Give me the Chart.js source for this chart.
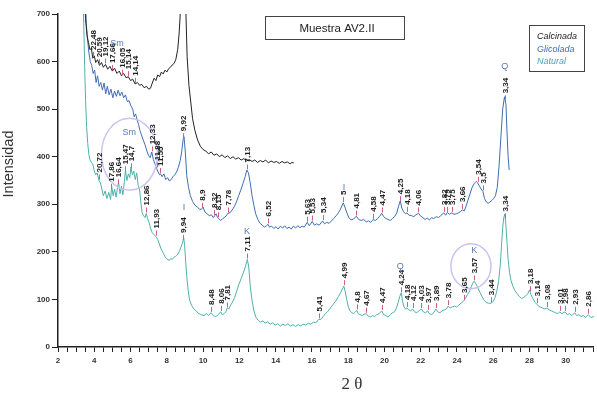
<!DOCTYPE html>
<html>
<head>
<meta charset="utf-8">
<script src="https://cdn.jsdelivr.net/npm/chart.js@4.4.1/dist/chart.umd.min.js"></script>
<style>
  html, body { margin: 0; padding: 0; background: #ffffff; }
  canvas { display: block; }
</style>
</head>
<body>
<canvas id="xrd" width="597" height="403"></canvas>
<script>
// Diffractograms of sample AV2.II: [2θ (°), intensity (counts)]
const calcinada = [
  [3.42,760],[3.52,690],[3.6,655],[3.68,640],[3.76,625],[3.84,628],[3.92,607],[4.0,612],[4.08,598],[4.18,604],
  [4.29,592],[4.4,598],[4.5,588],[4.62,594],[4.74,584],[4.86,590],[5.0,580],[5.12,586],[5.25,575],[5.38,580],
  [5.5,570],[5.62,575],[5.75,566],[5.88,568],[6.0,560],[6.12,563],[6.25,553],[6.38,556],[6.5,550],[6.62,552],
  [6.75,545],[6.88,548],[7.0,542],[7.1,544],[7.2,555],[7.3,565],[7.4,560],[7.5,572],[7.6,568],[7.7,578],
  [7.8,574],[7.9,582],[8.0,578],[8.1,585],[8.2,588],[8.3,593],[8.4,596],[8.5,605],[8.6,625],[8.68,660],
  [8.77,720],[8.9,1150],[9.04,720],[9.12,610],[9.22,550],[9.32,515],[9.42,480],[9.55,455],[9.7,435],[9.85,422],
  [10.0,415],[10.15,412],[10.3,406],[10.45,410],[10.6,403],[10.75,406],[10.9,400],[11.05,404],[11.2,398],[11.35,402],
  [11.5,396],[11.65,400],[11.8,395],[11.95,398],[12.1,393],[12.25,396],[12.4,391],[12.55,394],[12.7,390],[12.85,393],
  [13.0,388],[13.15,392],[13.3,389],[13.45,393],[13.6,387],[13.75,391],[13.9,388],[14.05,390],[14.2,386],[14.35,390],
  [14.5,387],[14.65,389],[14.8,385],[14.9,388],[15.0,387]
];

const glicolada = [
  [3.48,760],[3.56,680],[3.62,650],[3.7,620],[3.78,600],[3.86,592],[3.94,575],[4.02,582],[4.1,556],[4.18,570],
  [4.27,548],[4.36,556],[4.45,540],[4.54,555],[4.63,532],[4.72,548],[4.82,530],[4.92,542],[5.02,524],[5.12,538],
  [5.22,527],[5.32,540],[5.42,528],[5.52,536],[5.62,524],[5.72,530],[5.82,516],[5.92,518],[6.02,507],[6.12,500],
  [6.2,484],[6.28,490],[6.36,478],[6.44,468],[6.52,455],[6.6,446],[6.7,435],[6.8,425],[6.9,412],[7.0,402],
  [7.08,398],[7.17,410],[7.26,394],[7.35,385],[7.44,375],[7.52,368],[7.6,362],[7.66,364],[7.74,358],[7.84,364],
  [7.94,352],[8.04,356],[8.14,349],[8.24,352],[8.34,358],[8.44,362],[8.54,368],[8.64,378],[8.74,392],[8.82,410],
  [8.9,436],[8.95,442],[9.02,410],[9.1,360],[9.2,335],[9.3,318],[9.42,306],[9.55,298],[9.68,294],[9.8,290],
  [9.9,289],[10.0,294],[10.1,284],[10.22,280],[10.34,276],[10.46,278],[10.56,272],[10.64,276],[10.72,280],[10.8,272],
  [10.87,270],[10.96,266],[11.06,269],[11.16,272],[11.26,275],[11.37,281],[11.48,282],[11.6,288],[11.72,295],[11.84,305],
  [11.96,318],[12.08,330],[12.2,344],[12.32,358],[12.41,372],[12.5,366],[12.6,345],[12.7,318],[12.8,298],[12.9,280],
  [13.02,268],[13.14,260],[13.26,256],[13.38,252],[13.5,255],[13.58,258],[13.66,252],[13.78,254],[13.9,249],[14.02,253],
  [14.14,248],[14.26,254],[14.38,250],[14.5,255],[14.62,249],[14.74,252],[14.86,248],[14.98,254],[15.1,250],[15.22,255],
  [15.34,251],[15.46,254],[15.58,252],[15.74,262],[15.86,255],[16.02,264],[16.14,256],[16.26,259],[16.4,256],[16.59,265],
  [16.7,259],[16.82,262],[16.95,260],[17.08,265],[17.2,270],[17.34,276],[17.46,282],[17.58,290],[17.73,303],[17.84,292],
  [17.94,281],[18.04,272],[18.16,267],[18.3,269],[18.45,275],[18.58,268],[18.72,266],[18.86,268],[19.0,263],[19.12,265],
  [19.24,262],[19.38,268],[19.5,266],[19.62,270],[19.74,275],[19.85,281],[19.96,274],[20.08,270],[20.2,268],[20.32,266],
  [20.44,270],[20.56,274],[20.68,282],[20.78,296],[20.87,307],[20.96,292],[21.06,284],[21.16,280],[21.24,282],[21.36,277],
  [21.5,276],[21.62,274],[21.74,278],[21.88,281],[22.0,275],[22.12,272],[22.24,268],[22.36,271],[22.48,267],[22.6,272],
  [22.72,270],[22.86,274],[22.98,272],[23.1,276],[23.27,282],[23.38,277],[23.47,283],[23.58,279],[23.71,282],[23.84,279],
  [23.96,280],[24.08,282],[24.2,285],[24.3,288],[24.4,286],[24.5,296],[24.6,308],[24.72,322],[24.84,336],[24.96,344],
  [25.06,348],[25.14,345],[25.24,338],[25.33,332],[25.43,327],[25.52,312],[25.62,305],[25.72,302],[25.82,305],[25.92,308],
  [26.02,312],[26.12,318],[26.22,335],[26.32,380],[26.42,440],[26.52,500],[26.62,526],[26.7,510],[26.76,450],[26.82,400],
  [26.88,372]
];

const natural = [
  [3.36,760],[3.42,680],[3.47,590],[3.52,520],[3.58,462],[3.64,428],[3.7,405],[3.76,394],[3.84,388],[3.92,384],
  [4.0,370],[4.08,362],[4.16,366],[4.26,350],[4.34,345],[4.42,332],[4.5,318],[4.6,328],[4.7,312],[4.8,325],
  [4.9,310],[4.96,338],[5.04,318],[5.12,332],[5.2,315],[5.28,335],[5.34,346],[5.42,322],[5.5,338],[5.58,320],
  [5.66,348],[5.72,372],[5.8,350],[5.88,364],[5.96,356],[6.02,378],[6.1,362],[6.18,370],[6.26,352],[6.34,366],
  [6.42,340],[6.5,330],[6.58,300],[6.64,282],[6.72,276],[6.8,272],[6.87,281],[6.94,270],[7.02,262],[7.1,250],
  [7.2,240],[7.3,236],[7.41,232],[7.5,226],[7.58,218],[7.66,208],[7.74,202],[7.82,196],[7.9,190],[7.98,186],
  [8.06,184],[8.14,182],[8.22,186],[8.3,184],[8.38,188],[8.46,190],[8.54,192],[8.62,196],[8.7,202],[8.78,210],
  [8.86,218],[8.93,230],[8.98,215],[9.04,180],[9.1,148],[9.18,118],[9.26,98],[9.36,88],[9.46,82],[9.56,78],
  [9.66,74],[9.77,70],[9.9,68],[10.05,66],[10.18,70],[10.3,66],[10.43,72],[10.56,66],[10.7,64],[10.84,68],
  [10.97,74],[11.06,68],[11.16,70],[11.26,74],[11.33,82],[11.42,80],[11.52,88],[11.62,94],[11.74,104],[11.86,118],
  [11.98,132],[12.1,144],[12.22,156],[12.34,170],[12.44,184],[12.52,168],[12.6,128],[12.7,98],[12.8,76],[12.92,62],
  [13.04,56],[13.16,52],[13.3,55],[13.42,50],[13.56,53],[13.7,48],[13.84,51],[13.98,46],[14.12,49],[14.26,44],
  [14.4,48],[14.54,45],[14.68,49],[14.82,44],[14.96,47],[15.1,43],[15.24,47],[15.38,44],[15.52,48],[15.66,46],
  [15.8,50],[15.94,48],[16.08,52],[16.22,51],[16.37,58],[16.5,58],[16.62,64],[16.74,70],[16.86,74],[16.98,80],
  [17.1,86],[17.22,92],[17.34,98],[17.46,106],[17.58,114],[17.68,122],[17.76,128],[17.84,116],[17.92,100],[18.0,86],
  [18.1,76],[18.2,72],[18.3,70],[18.38,73],[18.47,77],[18.56,70],[18.66,68],[18.76,66],[18.88,69],[19.0,70],
  [19.1,65],[19.22,63],[19.34,66],[19.46,64],[19.58,68],[19.7,70],[19.85,76],[19.96,68],[20.08,66],[20.2,63],
  [20.32,68],[20.44,72],[20.56,74],[20.66,82],[20.76,94],[20.84,106],[20.93,114],[21.0,96],[21.08,84],[21.16,80],
  [21.24,82],[21.34,78],[21.44,76],[21.55,80],[21.66,74],[21.78,72],[21.9,76],[22.04,80],[22.14,74],[22.26,72],
  [22.38,76],[22.48,70],[22.6,68],[22.72,72],[22.84,80],[22.94,74],[23.06,72],[23.18,76],[23.3,78],[23.42,80],
  [23.52,86],[23.62,82],[23.74,84],[23.86,86],[23.98,84],[24.1,88],[24.22,92],[24.35,96],[24.46,102],[24.58,110],
  [24.7,118],[24.8,128],[24.92,138],[25.0,136],[25.08,130],[25.18,122],[25.28,114],[25.38,106],[25.5,98],[25.62,94],
  [25.74,92],[25.88,92],[26.0,96],[26.1,104],[26.2,118],[26.3,140],[26.38,170],[26.45,210],[26.52,250],[26.58,272],
  [26.64,280],[26.7,255],[26.76,218],[26.82,184],[26.9,156],[26.98,140],[27.08,128],[27.2,118],[27.32,112],[27.44,106],
  [27.56,102],[27.68,104],[27.8,108],[27.9,112],[28.0,120],[28.08,110],[28.18,102],[28.3,94],[28.4,90],[28.5,86],
  [28.6,84],[28.72,82],[28.84,80],[28.97,82],[29.08,78],[29.2,76],[29.32,74],[29.44,72],[29.56,70],[29.66,74],
  [29.78,70],[29.96,74],[30.08,68],[30.2,70],[30.34,66],[30.49,72],[30.6,66],[30.72,68],[30.84,64],[30.96,66],
  [31.1,62],[31.25,68],[31.38,62],[31.55,64]
];

// Indexed reflections (d-spacing, Å) marked on each trace
const calcinadaPeaks = ['22,48','20,59','19,12','17,66','16,05','15,14','14,14'];
const glicoladaPeaks = ['12,33','11,88','11,55','9,92','8,9','8,32','8,15','7,78','7,13','6,52','5,63','5,53','5,34','5',
  '4,81','4,58','4,47','4,25','4,18','4,06','3,82','3,79','3,75','3,66','3,54','3,5','3,34'];
const naturalPeaks = ['20,72','17,86','16,64','15,47','14,7','12,86','11,93','9,94','8,48','8,06','7,81','7,11','5,41','4,99',
  '4,8','4,67','4,47','4,24','4,18','4,12','4,03','3,97','3,89','3,78','3,65','3,57','3,44','3,34','3,18','3,14','3,08',
  '3,01','2,98','2,93','2,86'];

// Mineral phases: Sm = smectite, I = illite, K = kaolinite, Q = quartz
const phaseNames = ['Sm','Sm','I','K','I','Q','K','Q'];
const phaseAngles = [5.25, 5.93, 8.95, 12.42, 17.77, 20.87, 24.95, 26.64];
const phaseSeries = ['glicolada','natural','natural','natural','natural','natural','natural','glicolada'];

const seriesNames = ['Calcinada','Glicolada','Natural'];
const xTickLabels = [2,4,6,8,10,12,14,16,18,20,22,24,26,28,30];
const yTickLabels = [0,100,200,300,400,500,600,700];

// ---- helpers ----
const CU_KALPHA = 1.5406;
function angleFromD(d) {
  const v = parseFloat(d.replace(',', '.'));
  return 2 * Math.asin(CU_KALPHA / (2 * v)) * 180 / Math.PI;
}
function valueAt(series, t) {
  for (let i = 1; i < series.length; i++) {
    if (series[i][0] >= t) {
      const [x0, y0] = series[i - 1], [x1, y1] = series[i];
      return y0 + (y1 - y0) * (t - x0) / (x1 - x0);
    }
  }
  return series[series.length - 1][1];
}
const toPoints = s => s.map(([x, y]) => ({ x, y }));

const COLORS = { calcinada: '#222222', glicolada: '#3f6db3', natural: '#4fb0ac' };
const seriesByKey = { calcinada, glicolada, natural };

// extra drawing: reflection labels, phase tags, frames, titles
const decor = {
  id: 'decor',
  afterDraw(chart) {
    const { ctx, scales: { x, y } } = chart;
    ctx.save();

    // marked regions
    ctx.strokeStyle = '#c9c3f0';
    ctx.lineWidth = 1.5;
    [[5.94, 405, 28, 36], [24.77, 170, 20, 22.5]].forEach(([t, v, rx, ry]) => {
      ctx.beginPath();
      ctx.ellipse(x.getPixelForValue(t), y.getPixelForValue(v), rx, ry, 0, 0, Math.PI * 2);
      ctx.stroke();
    });

    // reflection labels
    const sets = [[calcinada, calcinadaPeaks], [glicolada, glicoladaPeaks], [natural, naturalPeaks]];
    ctx.font = 'bold 8px "Liberation Sans", Arial, sans-serif';
    ctx.textBaseline = 'middle';
    ctx.textAlign = 'left';
    sets.forEach(([series, peaks]) => {
      peaks.forEach(d => {
        const t = angleFromD(d);
        const px = Math.round(x.getPixelForValue(t)) + 0.5;
        const py = y.getPixelForValue(valueAt(series, t));
        ctx.strokeStyle = '#cf5f82';
        ctx.lineWidth = 1;
        ctx.beginPath();
        ctx.moveTo(px, py - 1);
        ctx.lineTo(px, py - 6);
        ctx.stroke();
        ctx.save();
        ctx.translate(px, py - 8);
        ctx.rotate(-Math.PI / 2);
        ctx.fillStyle = '#1e1e1e';
        ctx.fillText(d, 0, 0);
        ctx.restore();
      });
    });

    // phase tags
    const lifts = [51, 44, 33, 29, 99, 29, 31, 32];
    ctx.font = '9px "Liberation Sans", Arial, sans-serif';
    ctx.textAlign = 'center';
    ctx.fillStyle = '#5a78b4';
    phaseNames.forEach((name, i) => {
      const t = phaseAngles[i];
      const px = x.getPixelForValue(t);
      const py = y.getPixelForValue(valueAt(seriesByKey[phaseSeries[i]], t)) - lifts[i];
      ctx.fillText(name, px, py);
    });

    // sample title
    ctx.strokeStyle = '#444';
    ctx.lineWidth = 1;
    ctx.strokeRect(265.5, 16.5, 139, 23);
    ctx.fillStyle = '#222';
    ctx.font = '11.5px "Liberation Sans", Arial, sans-serif';
    ctx.fillText('Muestra AV2.II', 337, 28.5);

    // legend
    ctx.strokeRect(529.5, 25.5, 55, 46);
    ctx.textAlign = 'left';
    ctx.font = 'italic 9px "Liberation Sans", Arial, sans-serif';
    const legendColors = [COLORS.calcinada, COLORS.glicolada, '#3ea4b8'];
    seriesNames.forEach((n, i) => {
      ctx.fillStyle = legendColors[i];
      ctx.fillText(n, 537, 36.5 + i * 12.5);
    });

    // axis titles
    ctx.fillStyle = '#333';
    ctx.font = '14.5px "Liberation Sans", Arial, sans-serif';
    ctx.textAlign = 'center';
    ctx.save();
    ctx.translate(9, 164);
    ctx.rotate(-Math.PI / 2);
    ctx.fillText('Intensidad', 0, 0);
    ctx.restore();
    ctx.font = '17px "Liberation Serif", "DejaVu Serif", serif';
    ctx.fillText('2 θ', 352, 385);

    ctx.restore();
  }
};

const tickFont = { family: '"Liberation Sans", Arial, sans-serif', size: 8, weight: 'bold' };

new Chart(document.getElementById('xrd'), {
  type: 'line',
  data: {
    datasets: [
      { label: seriesNames[0], data: toPoints(calcinada), borderColor: COLORS.calcinada, borderWidth: 1 },
      { label: seriesNames[1], data: toPoints(glicolada), borderColor: COLORS.glicolada, borderWidth: 1 },
      { label: seriesNames[2], data: toPoints(natural), borderColor: COLORS.natural, borderWidth: 1 }
    ]
  },
  options: {
    responsive: false,
    animation: false,
    devicePixelRatio: 1,
    elements: { point: { radius: 0 }, line: { tension: 0 } },
    layout: { padding: { top: 14, right: 0, left: 0, bottom: 0 } },
    plugins: { legend: { display: false }, tooltip: { enabled: false } },
    scales: {
      x: {
        type: 'linear', min: 2, max: 31.55,
        border: { color: '#222', width: 1.5 },
        grid: { drawOnChartArea: false, drawTicks: true, tickLength: 5, color: '#222', lineWidth: 1 },
        ticks: {
          stepSize: 0.5, autoSkip: false, maxRotation: 0, includeBounds: false,
          font: tickFont, color: '#333', padding: 4,
          callback: v => xTickLabels.includes(v) ? String(v) : ''
        },
        afterFit: s => { s.height = 56; }
      },
      y: {
        min: 0, max: 700,
        border: { color: '#222', width: 1.5 },
        grid: { drawOnChartArea: false, drawTicks: true, tickLength: 6, color: '#222', lineWidth: 1 },
        ticks: {
          stepSize: 100, font: tickFont, color: '#333', padding: 2,
          callback: v => yTickLabels.includes(v) ? String(v) : ''
        },
        afterFit: s => { s.width = 58; }
      }
    }
  },
  plugins: [decor]
});
</script>
</body>
</html>
